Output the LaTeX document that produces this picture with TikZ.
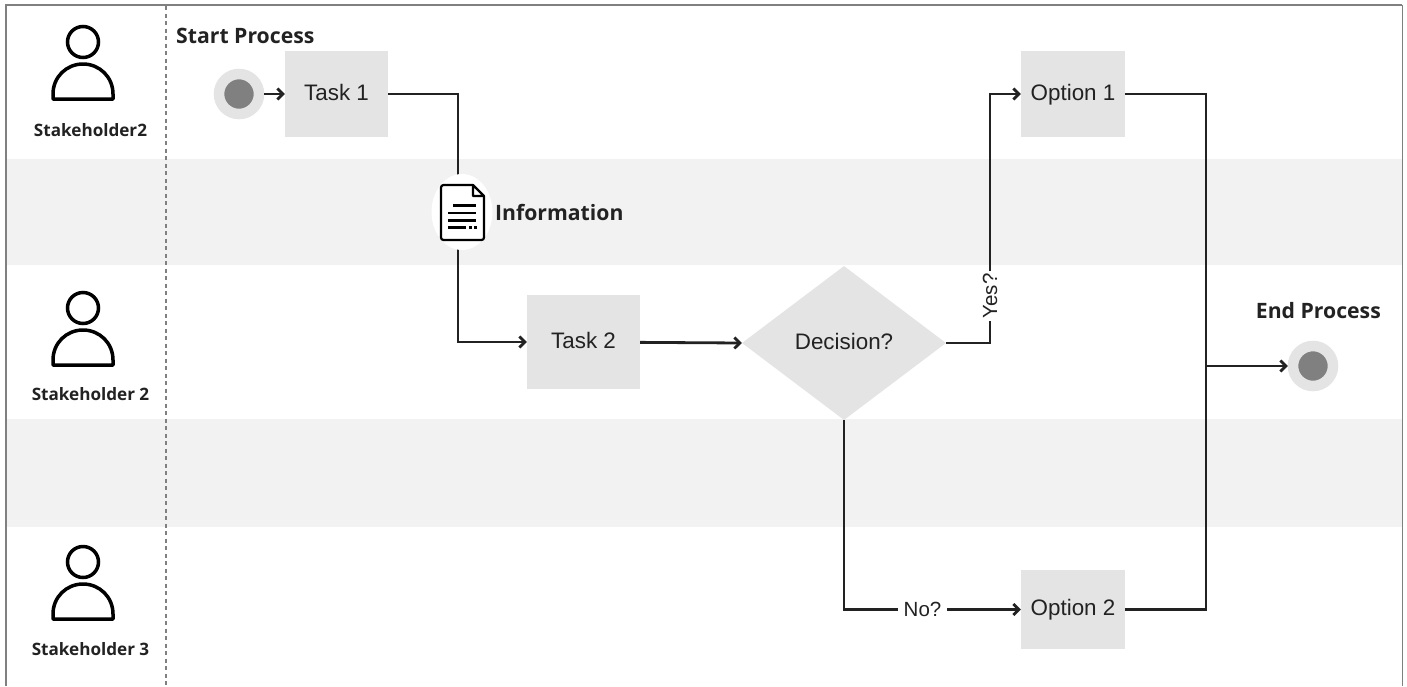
\documentclass[tikz,border=0pt]{standalone}
\usepackage{fontspec}
\setmainfont{Liberation Sans}
\newfontfamily\boldlabel{Open Sans Bold}
\usetikzlibrary{arrows.meta, shapes.geometric}
\definecolor{inkgray}{HTML}{222222}
\definecolor{boxgray}{HTML}{E4E4E4}
\definecolor{bandgray}{HTML}{F2F2F2}
\definecolor{dotgray}{HTML}{808080}
\tikzset{
  taskbox/.style={rectangle, fill=boxgray, inner sep=0pt, text=inkgray, text height=16pt, text depth=4pt, font=\fontsize{22.4}{26}\selectfont},
  decisionbox/.style={diamond, fill=boxgray, inner sep=0pt, minimum width=204pt, minimum height=154pt, text=inkgray, text height=16pt, text depth=4pt, font=\fontsize{22.4}{26}\selectfont},
  ringdot/.style={circle, fill=dotgray, draw=boxgray, line width=10.5pt, minimum size=40pt, inner sep=0pt},
  edgelabel/.style={fill=white, inner sep=0pt, text=inkgray, minimum height=20pt, minimum width=49pt, font=\fontsize{20.5}{24}\selectfont},
  headline/.style={text=inkgray, inner sep=0pt, font=\boldlabel\fontsize{21.2}{25}\selectfont},
  rolename/.style={text=inkgray, inner sep=0pt, font=\boldlabel\fontsize{17.1}{20}\selectfont},
  flow/.style={draw=inkgray, line width=2.8pt},
  iconline/.style={draw=black, line width=3.5pt},
  docline/.style={draw=black, line width=2.2pt},
  person/.pic={
    \draw[iconline] (0,0) circle[radius=15.5pt];
    \draw[iconline, line join=round] (-30,57) -- (-30,52) .. controls (-30,35) and (-16.5,22) .. (0,22)
      .. controls (16.5,22) and (30,35) .. (30,52) -- (30,57) -- cycle;
  }
}

\begin{document}
\begin{tikzpicture}[x=1pt, y=-1pt, >={Straight Barb[length=5.5pt, width=11pt]}]
    \useasboundingbox (0,0) rectangle (1407,686);
    \fill[white] (0,0) rectangle (1407,686);

    % -------------------------------------------------------
    % 1. Lanes and frame
    % -------------------------------------------------------
    \fill[bandgray] (6,159) rectangle (1402,265);
    \fill[bandgray] (6,419) rectangle (1402,527);
    \draw[gray, line width=1pt] (1402,5) -- (1402,686);
    \draw[dotgray, line width=2.2pt] (6,686) -- (6,5) -- (1402,5);
    \draw[dotgray, line width=1.6pt, dash pattern=on 4pt off 3.5pt] (166,6) -- (166,686);

    % -------------------------------------------------------
    % 2. Stakeholders
    % -------------------------------------------------------
    \foreach \headY/\nameY/\who/\name in {42/130/lanetop/Stakeholder2, 308/394/lanemid/Stakeholder 2, 562/649/lanelow/Stakeholder 3} {
        \pic at (83,\headY) {person};
        \node[rolename] (\who) at (90.5,\nameY) {\name};
    }

    % -------------------------------------------------------
    % 3. Flow nodes
    % -------------------------------------------------------
    \node[ringdot] (start) at (239,94) {};
    \node[ringdot] (end) at (1313,366) {};
    \node[taskbox, minimum width=103pt, minimum height=86pt] (task1) at (336.5,94) {Task 1};
    \node[taskbox, minimum width=113pt, minimum height=94pt] (task2) at (583.5,342) {Task 2};
    \node[decisionbox] (decision) at (844,343) {Decision?};
    \node[taskbox, minimum width=104pt, minimum height=86pt] (option1) at (1073,94) {Option 1};
    \node[taskbox, minimum width=104pt, minimum height=79pt] (option2) at (1073,609.5) {Option 2};
    \node[headline, anchor=west] (startlabel) at (176,36) {Start Process};
    \node[headline, anchor=east] (endlabel) at (1381,311) {End Process};
    \node[headline, anchor=west] (infolabel) at (495,212) {Information};

    % -------------------------------------------------------
    % 4. Connectors
    % -------------------------------------------------------
    \coordinate (infotop) at (458,176);
    \coordinate (infobot) at (458,248);
    \coordinate (merge) at (1206,366);
    \node[edgelabel, rotate=90] (yes) at (990,296) {Yes?};
    \node[edgelabel] (no) at (922.5,609.5) {No?};
    \draw[flow, ->] (start) -- (task1);
    \draw[flow] (task1.east) -| (infotop);
    \draw[flow, ->] (infobot) |- (task2.west);
    \draw[flow, ->] (task2) -- (decision.west);
    \draw[flow] (decision.east) -| (yes.west);
    \draw[flow, ->] (yes.east) |- (option1.west);
    \draw[flow] (decision.south) |- (no.west);
    \draw[flow, ->] (no.east) -- (option2.west);
    \draw[flow] (option1.east) -| (merge) |- (option2.east);
    \draw[flow, ->] (merge) -- (end.west);

    % -------------------------------------------------------
    % 5. Information sheet
    % -------------------------------------------------------
    \node[ellipse, fill=white, minimum width=61pt, minimum height=76pt, inner sep=0pt] (infoblob) at (462,212) {};
    \draw[docline, rounded corners=2.5pt, fill=white] (473,185) -- (441,185) -- (441,240) -- (484,240) -- (484,196);
    \draw[docline, line join=round] (473,185) -- (484,196) -- (473,196) -- cycle;
    \foreach \lineY/\fromX/\toX in {205.5/453/476, 213/448/476, 220.5/448/476, 227.5/448/466} {
        \draw[docline] (\fromX,\lineY) -- (\toX,\lineY);
    }
    \draw[docline, dash pattern=on 2.5pt off 2.5pt] (469,227.5) -- (477,227.5);

\end{tikzpicture}
\end{document}
